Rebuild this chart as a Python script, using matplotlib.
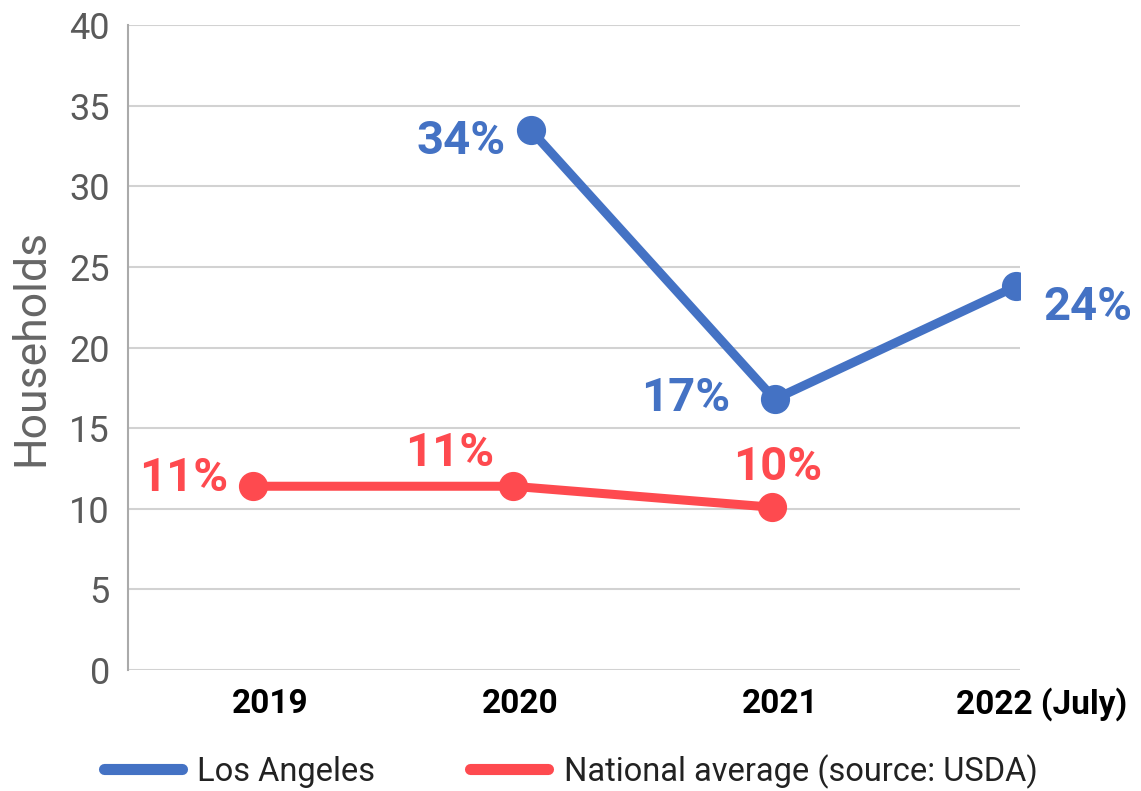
import matplotlib.pyplot as plt
from matplotlib.lines import Line2D
from matplotlib.transforms import blended_transform_factory

plt.rcParams['font.family'] = ['Roboto', 'DejaVu Sans']

# data (x in fractional years, as placed on the original chart)
la_x = [2020.07, 2021.01, 2021.94]
la_y = [33.5, 16.8, 23.8]
la_labels = ['34%', '17%', '24%']

nat_x = [2019.0, 2020.0, 2021.0]
nat_y = [11.4, 11.4, 10.1]
nat_labels = ['11%', '11%', '10%']

tick_x = [2019.065, 2020.03, 2021.03, 2022.04]
tick_labels = ['2019', '2020', '2021', '2022 (July)']

blue = '#4472c4'
red = '#fe4a4f'

fig = plt.figure(figsize=(11.41, 7.91), dpi=100)
ax = fig.add_axes([0.1122, 0.153, 0.7818, 0.815])

ax.plot(la_x, la_y, color=blue, lw=6.5, marker='o', ms=20, solid_capstyle='round', zorder=3)
ax.plot(nat_x, nat_y, color=red, lw=6.5, marker='o', ms=20, solid_capstyle='round', zorder=3)

# data labels (offsets in points)
la_off = [(-18, -8, 'right'), (-32, 1, 'right'), (20, -15, 'left')]
nat_off = [(-18, 6, 'right'), (-13, 24, 'right'), (4, 29, 'center')]
for x, y, t, (dx, dy, ha) in zip(la_x, la_y, la_labels, la_off):
    ax.annotate(t, (x, y), xytext=(dx, dy), textcoords='offset points',
                ha=ha, va='center', color=blue, fontsize=34, fontweight='bold')
for x, y, t, (dx, dy, ha) in zip(nat_x, nat_y, nat_labels, nat_off):
    ax.annotate(t, (x, y), xytext=(dx, dy), textcoords='offset points',
                ha=ha, va='center', color=red, fontsize=34, fontweight='bold')

ax.set_xlim(2018.518, 2021.956)
ax.set_ylim(0, 40)
ax.set_yticks(range(0, 41, 5))
ax.set_xticks([])
ax.tick_params(axis='y', length=0, pad=13, labelsize=26, labelcolor='#5a5a5a')
ax.grid(axis='y', color='#d2d2d2', lw=1.5)
ax.set_axisbelow(True)
for s in ['top', 'right', 'bottom']:
    ax.spines[s].set_visible(False)
ax.spines['left'].set_color('#aaaaaa')
ax.spines['left'].set_linewidth(1.5)
ax.set_ylabel('Households', fontsize=32, color='#666666', labelpad=12)

trans = blended_transform_factory(ax.transData, ax.transAxes)
for x, t in zip(tick_x, tick_labels):
    ax.text(x, -0.053, t, transform=trans, ha='center', va='center',
            fontsize=24, fontweight='bold', color='black')

handles = [Line2D([], [], color=blue, lw=8, solid_capstyle='round'),
           Line2D([], [], color=red, lw=8, solid_capstyle='round')]
fig.legend(handles, ['Los Angeles', 'National average (source: USDA)'],
           loc='lower center', bbox_to_anchor=(0.5, -0.034), ncol=2, frameon=False,
           fontsize=23.5, handlelength=2.4, handletextpad=0.47, columnspacing=2.9,
           labelcolor='#222222')

fig.savefig('out.png', dpi=100)
